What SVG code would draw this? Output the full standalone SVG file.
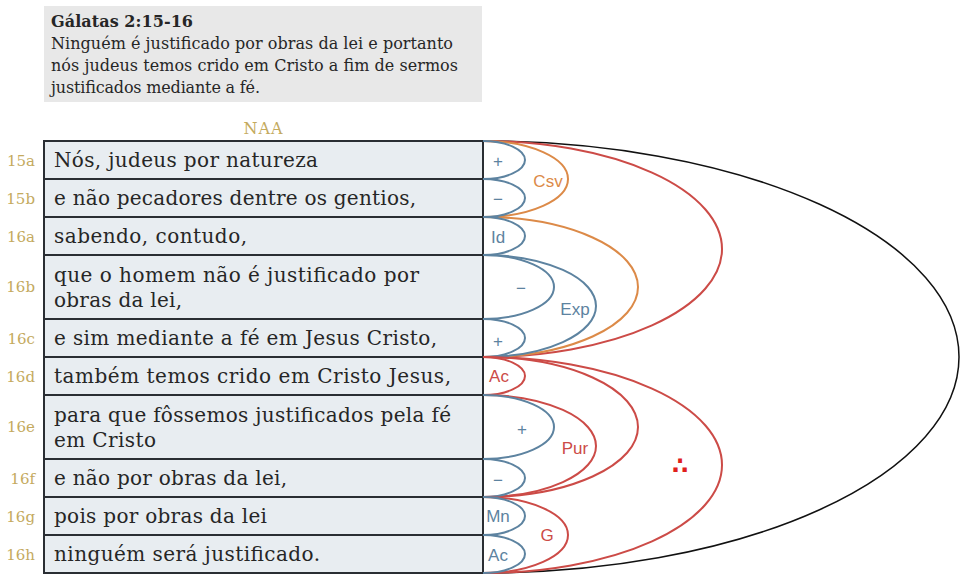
<svg xmlns="http://www.w3.org/2000/svg" width="966" height="584" viewBox="0 0 966 584">
<style>
.row{fill:#e8edf1;stroke:#2a2e33;stroke-width:2}
.txt{font-family:"DejaVu Serif","Liberation Serif",serif;font-size:20px;fill:#262626}
.vs{font-family:"DejaVu Serif","Liberation Serif",serif;font-size:15px;fill:#c4aa5e;text-anchor:end}
.hd{font-family:"DejaVu Serif","Liberation Serif",serif;font-size:16px;fill:#262626}
.arc{fill:none;stroke-width:2}
.b{stroke:#5d83a0}.o{stroke:#dc8a48}.r{stroke:#cc4b47}.k{stroke:#111;stroke-width:1.5}
.lb{font-family:"Liberation Sans",Arial,sans-serif;font-size:17px;text-anchor:middle}
.lbb{fill:#5d83a0}.lbo{fill:#dc8a48}.lbr{fill:#cc4b47}
</style>
<g id="header">
<rect x="44" y="6" width="438" height="96" fill="#e8e8e8"/>
<text class="hd" x="51" y="27" font-weight="bold" textLength="142">Gálatas 2:15-16</text>
<text class="hd" x="51" y="49" textLength="402">Ninguém é justificado por obras da lei e portanto</text>
<text class="hd" x="51" y="71" textLength="407">nós judeus temos crido em Cristo a fim de sermos</text>
<text class="hd" x="51" y="93" textLength="209">justificados mediante a fé.</text>
</g>
<g id="version"><text x="263" y="134" font-family="DejaVu Serif, Liberation Serif, serif" font-size="16" fill="#c4aa5e" text-anchor="middle" textLength="39">NAA</text></g>
<g id="v15a"><rect class="row" x="44" y="141" width="439" height="38"/><text class="vs" x="35" y="166">15a</text><text class="txt" x="54" y="167" textLength="264">Nós, judeus por natureza</text></g>
<g id="v15b"><rect class="row" x="44" y="179" width="439" height="38"/><text class="vs" x="35" y="204">15b</text><text class="txt" x="54" y="205" textLength="362">e não pecadores dentre os gentios,</text></g>
<g id="v16a"><rect class="row" x="44" y="217" width="439" height="38"/><text class="vs" x="35" y="242">16a</text><text class="txt" x="54" y="243" textLength="193">sabendo, contudo,</text></g>
<g id="v16b"><rect class="row" x="44" y="255" width="439" height="64"/><text class="vs" x="35" y="292">16b</text><text class="txt" x="54" y="282" textLength="365">que o homem não é justificado por</text><text class="txt" x="54" y="307" textLength="128">obras da lei,</text></g>
<g id="v16c"><rect class="row" x="44" y="319" width="439" height="38"/><text class="vs" x="35" y="344">16c</text><text class="txt" x="54" y="345" textLength="383">e sim mediante a fé em Jesus Cristo,</text></g>
<g id="v16d"><rect class="row" x="44" y="357" width="439" height="38"/><text class="vs" x="35" y="382">16d</text><text class="txt" x="54" y="383" textLength="397">também temos crido em Cristo Jesus,</text></g>
<g id="v16e"><rect class="row" x="44" y="395" width="439" height="64"/><text class="vs" x="35" y="432">16e</text><text class="txt" x="54" y="422" textLength="397">para que fôssemos justificados pela fé</text><text class="txt" x="54" y="447" textLength="102">em Cristo</text></g>
<g id="v16f"><rect class="row" x="44" y="459" width="439" height="38"/><text class="vs" x="35" y="484">16f</text><text class="txt" x="54" y="485" textLength="233">e não por obras da lei,</text></g>
<g id="v16g"><rect class="row" x="44" y="497" width="439" height="38"/><text class="vs" x="35" y="522">16g</text><text class="txt" x="54" y="523" textLength="213">pois por obras da lei</text></g>
<g id="v16h"><rect class="row" x="44" y="535" width="439" height="38"/><text class="vs" x="35" y="560">16h</text><text class="txt" x="54" y="561" textLength="266">ninguém será justificado.</text></g>
<g id="connectors">
<path class="arc k" d="M483 141 A476 216 0 0 1 483 573"/>
<path class="arc r" d="M483 141 A239 108 0 0 1 483 357"/>
<path class="arc r" d="M483 357 A239 108 0 0 1 483 573"/>
<path class="arc o" d="M483 141 A85 38 0 0 1 483 217"/>
<path class="arc o" d="M483 217 A155 70 0 0 1 483 357"/>
<path class="arc b" d="M483 255 A113 51 0 0 1 483 357"/>
<path class="arc b" d="M483 141 A42 19 0 0 1 483 179"/>
<path class="arc b" d="M483 179 A42 19 0 0 1 483 217"/>
<path class="arc b" d="M483 217 A42 19 0 0 1 483 255"/>
<path class="arc b" d="M483 255 A71 32 0 0 1 483 319"/>
<path class="arc b" d="M483 319 A42 19 0 0 1 483 357"/>
<path class="arc r" d="M483 357 A155 70 0 0 1 483 497"/>
<path class="arc r" d="M483 357 A42 19 0 0 1 483 395"/>
<path class="arc r" d="M483 395 A113 51 0 0 1 483 497"/>
<path class="arc b" d="M483 395 A71 32 0 0 1 483 459"/>
<path class="arc b" d="M483 459 A42 19 0 0 1 483 497"/>
<path class="arc r" d="M483 497 A85 38 0 0 1 483 573"/>
<path class="arc b" d="M483 497 A42 19 0 0 1 483 535"/>
<path class="arc b" d="M483 535 A42 19 0 0 1 483 573"/>
</g>
<g id="arc-labels">
<text class="lb lbb" x="498" y="167">+</text>
<text class="lb lbb" x="498" y="205">−</text>
<text class="lb lbb" x="498" y="243">Id</text>
<text class="lb lbb" x="521" y="294">−</text>
<text class="lb lbb" x="575" y="315">Exp</text>
<text class="lb lbb" x="498" y="347">+</text>
<text class="lb lbo" x="548" y="187">Csv</text>
<text class="lb lbr" x="499" y="382">Ac</text>
<text class="lb lbb" x="522" y="435">+</text>
<text class="lb lbr" x="575" y="454">Pur</text>
<text class="lb lbb" x="498" y="486">−</text>
<text class="lb lbb" x="498" y="522">Mn</text>
<text class="lb lbb" x="498" y="561">Ac</text>
<text class="lb lbr" x="547" y="541">G</text>
<text x="680" y="474" font-family="DejaVu Sans, sans-serif" font-size="24" font-weight="bold" fill="#e0201c" text-anchor="middle">∴</text>
</g>
</svg>
